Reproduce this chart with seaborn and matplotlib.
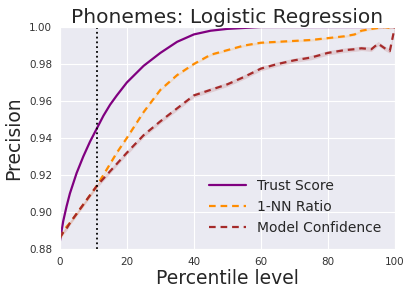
import matplotlib
matplotlib.use("Agg")
import matplotlib.pyplot as plt
import seaborn as sns
import numpy as np

pct = [0, 1, 2, 3, 5, 7, 9, 11, 13, 15, 17, 20, 25, 30, 35, 40, 45, 50, 55, 60,
       65, 70, 75, 80, 85, 88, 90, 93, 95, 97, 98.5, 100]
trust = [0.884, 0.895, 0.903, 0.910, 0.921, 0.930, 0.938, 0.945, 0.952, 0.958, 0.963,
         0.970, 0.979, 0.986, 0.992, 0.996, 0.998, 0.999, 0.9995, 1.0,
         1.0, 1.0, 1.0, 1.0, 1.0, 1.0, 1.0, 1.0, 1.0, 1.0, 1.0, 1.0]
nn_ratio = [0.886, 0.889, 0.892, 0.894, 0.899, 0.904, 0.909, 0.914, 0.920, 0.926, 0.932,
            0.940, 0.954, 0.966, 0.974, 0.980, 0.985, 0.9875, 0.990, 0.9915,
            0.992, 0.9925, 0.993, 0.994, 0.995, 0.996, 0.998, 0.999, 0.9995, 1.0, 0.9995, 1.0]
model_conf = [0.886, 0.889, 0.891, 0.894, 0.899, 0.904, 0.909, 0.914, 0.918, 0.922, 0.926,
              0.932, 0.9415, 0.949, 0.956, 0.963, 0.966, 0.969, 0.973, 0.9775,
              0.980, 0.982, 0.9835, 0.986, 0.9875, 0.988, 0.9885, 0.988, 0.991, 0.9885, 0.987, 1.0]
band_nn = 0.0006
band_mc = 0.0012
cutoff = 11

sns.set_style("darkgrid")
fig = plt.figure(figsize=(4.1, 2.97), dpi=100)
ax = fig.add_axes([0.146, 0.162, 0.817, 0.747])

p = np.array(pct)
nn = np.array(nn_ratio)
mc = np.array(model_conf)
ax.fill_between(p, nn - band_nn, nn + band_nn, color="darkorange", alpha=0.15, lw=0)
ax.fill_between(p, mc - band_mc, mc + band_mc, color="brown", alpha=0.15, lw=0)

sns.lineplot(x=pct, y=trust, color="purple", lw=1.6, label="Trust Score", ax=ax)
sns.lineplot(x=pct, y=nn_ratio, color="darkorange", lw=1.6, linestyle=(0, (3, 2.2)),
             label="1-NN Ratio", ax=ax)
sns.lineplot(x=pct, y=model_conf, color="brown", lw=1.6, linestyle=(0, (3, 2.2)),
             label="Model Confidence", ax=ax)

ax.axvline(cutoff, color="black", linestyle=":", lw=1.3)

ax.set_xlim(0, 100)
ax.set_ylim(0.88, 1.0)
ax.set_xticks([0, 20, 40, 60, 80, 100])
ax.set_yticks([0.88, 0.90, 0.92, 0.94, 0.96, 0.98, 1.00])
ax.set_yticklabels(["0.88", "0.90", "0.92", "0.94", "0.96", "0.98", "1.00"])
ax.tick_params(labelsize=7.5, pad=2, labelcolor="#333333")
ax.set_xlabel("Percentile level", fontsize=13.5, labelpad=2)
ax.set_ylabel("Precision", fontsize=13.5)
ax.set_title("Phonemes: Logistic Regression", fontsize=14.5, pad=3)
leg = ax.legend(loc="lower right", fontsize=10, frameon=False, handlelength=2.6,
                borderaxespad=0.6)

fig.savefig("out.png", dpi=100)
